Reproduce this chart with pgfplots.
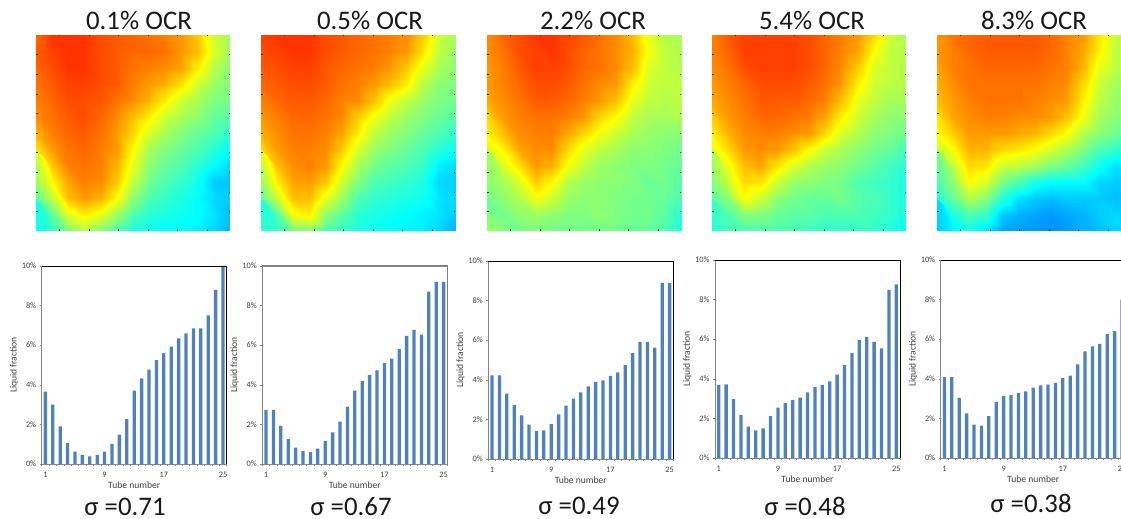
\documentclass[border=0pt]{standalone}
\usepackage{pgfplots}
\usepackage{pgfplotstable}
\usepackage{fontspec}
\setmainfont{Carlito}
\pgfplotsset{compat=1.18}
\pgfplotstableread{
tube a b c d e
1 3.65 2.73 4.22 3.69 4.09
2 3.0 2.73 4.22 3.72 4.09
3 1.9 1.93 3.3 2.97 3.04
4 1.07 1.25 2.73 2.18 2.26
5 0.63 0.83 2.2 1.59 1.69
6 0.46 0.66 1.73 1.39 1.64
7 0.38 0.6 1.42 1.49 2.11
8 0.45 0.78 1.44 2.11 2.83
9 0.62 1.16 1.76 2.55 3.14
10 1.02 1.6 2.26 2.77 3.17
11 1.48 2.14 2.7 2.92 3.29
12 2.27 2.9 3.05 3.05 3.37
13 3.7 3.7 3.37 3.32 3.56
14 4.33 4.2 3.67 3.59 3.67
15 4.77 4.5 3.9 3.69 3.7
16 5.25 4.73 3.97 3.87 3.79
17 5.6 5.1 4.2 4.21 4.03
18 5.93 5.32 4.38 4.7 4.16
19 6.35 5.8 4.74 5.3 4.73
20 6.6 6.47 5.35 5.97 5.38
21 6.85 6.77 5.92 6.1 5.64
22 6.85 6.53 5.92 5.86 5.77
23 7.5 8.7 5.62 5.54 6.26
24 8.8 9.2 8.9 8.49 6.41
25 10 9.2 8.9 8.77 8.0
}\bars
\pgfplotstableread[row sep=crcr,header=false]{
26\\28\\28\\28\\27\\26.5\\26\\25.5\\25\\24\\22\\18\\16.5\\
26.5\\27.5\\28\\28\\27\\26.5\\26\\26\\25.5\\24\\22.5\\18.5\\16.5\\
26\\27\\28\\28\\27\\26.5\\25.5\\25\\24.5\\23.5\\20.5\\17\\15.5\\
25.5\\26.5\\27.5\\27.5\\27\\26.5\\25\\24\\23\\21\\18\\16\\15\\
25\\26\\27\\27\\26.7\\25.5\\24.5\\23\\20.5\\18\\16.5\\15\\14.5\\
24.5\\25.5\\26.5\\27\\26\\24.5\\22.5\\20.5\\18\\16.5\\15.5\\14\\13.5\\
23\\25\\26\\26.5\\25.5\\24\\21.5\\18.5\\16.5\\15\\14\\13\\12\\
21\\24\\25.5\\26\\25\\24\\20\\16.5\\15\\14\\13\\11.5\\10\\
18.5\\22\\25\\25.5\\25\\23\\19\\15.5\\14\\13\\11.5\\10\\8.5\\
16\\20\\23.5\\25\\24.5\\22\\17.5\\14.5\\13\\12\\10.5\\8\\7.5\\
13.5\\17.5\\22.5\\24\\23\\20\\15.5\\13\\12\\11\\10\\8.5\\8\\
11\\13.5\\18.5\\20.5\\19\\16\\13\\11.5\\11\\10.5\\10\\9\\7.5\\
10.5\\12\\15\\17\\15\\13\\11\\10.5\\10\\10\\9.5\\8.5\\7\\
}\heatA
\pgfplotstableread[row sep=crcr,header=false]{
27.5\\28\\28\\28\\27\\26.5\\26\\25.5\\25\\24.5\\22\\18\\16.5\\
27\\27.5\\28\\28\\27\\26.5\\26\\25.5\\25\\24\\21\\17.5\\16\\
26.5\\27\\27.5\\27.5\\26.5\\26\\25.5\\25\\24\\22\\19\\16.5\\15.5\\
26\\26.5\\27\\27\\26.5\\25.5\\25\\24\\22.5\\20.5\\17\\15.5\\15\\
25\\26\\26.5\\26.5\\26\\25\\24.5\\22.5\\19.5\\17.5\\16\\15\\14.5\\
24\\25\\26\\26\\25.5\\24.5\\22\\19.5\\17.5\\16\\15\\14\\13.5\\
23\\24.5\\25.5\\25.5\\25\\23.5\\20.5\\17.5\\16\\15\\14\\13\\12\\
21.5\\24\\25\\25\\24.5\\22\\18.5\\16\\15\\14\\13\\11.5\\10.5\\
19\\22.5\\24.5\\25\\24\\20\\16.5\\14.5\\13.5\\13\\12\\9.5\\8.5\\
16\\20.5\\23.5\\24\\22\\18\\15\\13\\12.5\\12\\11\\8.5\\8\\
13.5\\18\\22.5\\22.5\\19\\16\\13\\12\\11.5\\11\\10.5\\9\\8.5\\
11\\13\\19.5\\20.5\\15.5\\13.5\\11.5\\11\\10.5\\10\\9.5\\9\\8\\
12\\12\\14.5\\15\\13\\12\\11\\10.5\\10\\9.5\\9.5\\8.5\\7\\
}\heatB
\pgfplotstableread[row sep=crcr,header=false]{
24.5\\26\\27\\28\\28\\27.5\\26.5\\25.5\\24.5\\22.5\\19\\17\\16.5\\
24.5\\25.5\\27\\27.5\\28\\27\\26\\25.5\\24.5\\23\\19.5\\17.5\\17\\
24\\25\\26.5\\27.5\\27.5\\27\\26\\25.5\\24.5\\22.5\\18.5\\17.5\\17\\
24\\25\\26\\27\\27\\26.5\\25.5\\24.5\\24\\20.5\\18\\17.5\\17.5\\
23.5\\24.5\\25.5\\26.5\\26.5\\26\\25\\24\\22.5\\19\\17.5\\17\\17.5\\
21.5\\24\\25\\25.5\\25.5\\25\\24\\21.5\\20\\17.5\\16.5\\16.5\\17\\
20.5\\22.5\\24.5\\25\\25\\23.5\\21.5\\19.5\\18\\16.5\\16\\15.5\\15.5\\
18.5\\20.5\\23.5\\24.5\\24.5\\21.5\\19\\17.5\\16.5\\15.5\\15.5\\15\\14.5\\
16.5\\18.5\\21\\24\\23\\19.5\\17.5\\16\\15.5\\15\\15\\14.5\\14\\
15.5\\16.5\\18.5\\22\\20\\17\\16\\15.5\\15.5\\15\\14\\14.5\\13.5\\
14.5\\15.5\\17\\19.5\\18\\16\\15.5\\15.5\\15\\14.5\\14.5\\14\\13\\
14\\14.5\\15.5\\16\\15.5\\15\\15\\15.5\\15\\14.5\\14.5\\13.5\\11.5\\
16\\15.5\\14.5\\15\\14.5\\14.5\\14.5\\14.5\\14.5\\14\\14\\13\\11\\
}\heatC
\pgfplotstableread[row sep=crcr,header=false]{
25\\26.5\\27.5\\27.5\\27.5\\27.5\\27\\26\\25\\24\\21.5\\18\\16.5\\
25\\26\\27.5\\27.5\\27.5\\27.5\\27\\26\\25\\23.5\\20\\17.5\\17\\
24.5\\25.5\\27\\27.5\\27.5\\27.5\\27\\26\\24.5\\22\\18.5\\17.5\\17\\
24\\25\\26\\27\\27\\27\\26.5\\25.5\\24\\20.5\\18\\17.5\\17\\
23.5\\24.5\\25.5\\26.5\\26.5\\26.5\\26\\25\\22.5\\19\\17.5\\16.5\\16.5\\
22\\24\\25\\26\\26\\25.5\\25\\23.5\\20.5\\18\\16.5\\15.5\\15.5\\
20.5\\23\\24.5\\25\\25\\24.5\\24\\21.5\\18.5\\17\\15.5\\15\\14.5\\
19\\21.5\\24\\24.5\\24\\22.5\\20\\18\\16.5\\15.5\\14.5\\14\\12.5\\
17\\19.5\\22.5\\23.5\\21\\18.5\\17\\16\\15.5\\14.5\\13.5\\12.5\\11.5\\
15\\18\\21.5\\21\\18\\16\\15.5\\15\\14.5\\13\\12.5\\12\\11\\
13.5\\15.5\\20\\18\\15.5\\14.5\\14\\14\\14.5\\13.5\\13\\12\\11\\
12\\13\\15\\15\\14\\13.5\\13.5\\13\\13\\13\\12.5\\12\\11\\
11.5\\13\\13\\13\\13\\13\\12.5\\12\\12\\12\\12\\11.5\\10\\
}\heatD
\pgfplotstableread[row sep=crcr,header=false]{
24\\25.5\\26\\26.5\\26.5\\26.5\\26.5\\26\\25\\24\\21\\18\\16.5\\
24\\25\\26\\26.5\\26.5\\26.5\\26.5\\26\\25\\23.5\\20.5\\17.5\\16\\
23.5\\25\\25.5\\26\\26\\26\\26\\25.5\\25\\23\\19\\17.5\\16\\
23\\24.5\\25.5\\25.5\\25.5\\25.5\\25.5\\25\\24.5\\21.5\\18\\16.5\\15.5\\
22.5\\24\\25\\25.5\\25.5\\25.5\\25\\24.5\\24\\20.5\\17.5\\16\\15\\
21\\23.5\\24.5\\25\\25\\24.5\\24.5\\24\\22.5\\19.5\\16.5\\15.5\\14.5\\
20\\22\\24\\24\\24\\23.5\\23\\21.5\\20\\17\\15.5\\14.5\\13.5\\
17.5\\20\\23\\23\\21.5\\21\\20\\18.5\\17\\15\\13\\12\\10.5\\
15\\17.5\\21.5\\21\\18\\17.5\\16.5\\15\\14\\12.5\\10.5\\9\\9\\
13\\15.5\\20\\18.5\\15\\13\\11\\10\\10\\10\\8.5\\8\\8\\
11\\14\\17\\15.5\\11.5\\9\\8\\7.5\\8\\8\\8\\7.5\\8\\
8.5\\11\\13\\12\\8\\7\\6.5\\6\\6.5\\7\\8\\8.5\\8.5\\
8\\9.5\\11\\9\\6.5\\6\\6\\5.5\\6\\7\\7.5\\8.5\\8.5\\
}\heatE
\newcommand\gridcols[1]{%
  \pgfplotstablecreatecol[expr={mod(\pgfplotstablerow,13)}]{gx}{#1}%
  \pgfplotstablecreatecol[expr={12-floor(\pgfplotstablerow/13)}]{gy}{#1}}
\gridcols\heatA \gridcols\heatB \gridcols\heatC \gridcols\heatD \gridcols\heatE
\definecolor{barblue}{RGB}{79,129,189}
\definecolor{axgray}{RGB}{134,134,134}
\definecolor{txt}{RGB}{64,64,64}
\pgfplotsset{
  heat/.style={
    scale only axis, width=194pt, height=196pt,
    anchor=south west, view={0}{90},
    xmin=0, xmax=12, ymin=0, ymax=12,
    colormap={jetx}{rgb255(0)=(0,0,255) rgb255(10)=(0,255,255) rgb255(20)=(255,255,0) rgb255(30)=(255,0,0)},
    point meta min=0, point meta max=30,
    xtick={1.44,3.27,5.09,6.91,8.73,10.56},
    ytick={1.2,2.4,3.6,4.8,6,7.2,8.4,9.6,10.8},
    xticklabels={}, yticklabels={}, ztick=\empty,
    tick align=inside, major tick length=1.5pt,
    tick style={black!65!green,line width=.4pt},
    axis line style={draw=none}, axis on top,
  },
  bar/.style={
    scale only axis, width=185pt, height=198pt,
    anchor=south west, ybar, bar width=3.3pt,
    xmin=0.5, xmax=25.5, ymin=0, ymax=10,
    xtick={1,9,17,25}, ytick={0,2,4,6,8,10},
    minor xtick={0.5,1.5,...,25.5},
    yticklabel={\pgfmathprintnumber{\tick}\%},
    /pgf/number format/assume math mode=true,
    tick align=outside, xtick pos=bottom, ytick pos=left,
    major tick length=2pt, minor tick length=2pt,
    xtick style={draw=none}, minor x tick style={draw=axgray,line width=.5pt},
    y tick style={draw=axgray,line width=.5pt},
    tick label style={font=\fontsize{8.3}{9}\selectfont,text=txt},
    xticklabel style={yshift=-3pt}, yticklabel style={xshift=0pt},
    xlabel={Tube number}, ylabel={Liquid fraction},
    label style={font=\fontsize{9.6}{11}\selectfont,text=txt},
    x label style={at={(axis description cs:.5,-.106)},anchor=center},
    y label style={at={(axis description cs:-.15,.5)},anchor=center,rotate=0},
    axis line style={axgray,line width=.8pt},
  },
  blacktop/.style={extra description/.code={\draw[black,line width=.8pt] (0,1)--(1,1)--(1,0);}},
  graytop/.style={extra description/.code={\draw[black!50,line width=1pt] (0,1)--(1,1)--(1,0);}},
}
\newcommand\heatplot[1]{\addplot3[surf,shader=interp,mesh/cols=13,mesh/ordering=x varies] table[x=gx,y=gy,z index=0]{#1};}
\newcommand\ttl[3]{\node[font=\fontsize{26.8}{30}\selectfont,text=black!90] at (#1pt,#2pt) {#3};}
\newcommand\sig[3]{\node[font=\fontsize{26.8}{30}\selectfont,text=black!90] at (#1pt,#2pt) {σ =#3};}
\begin{document}
\begin{tikzpicture}[x=1pt,y=1pt]
\path[use as bounding box] (0,0) rectangle (1121,519);
\begin{axis}[heat,at={(36pt,288pt)}]\heatplot{\heatA}\end{axis}
\begin{axis}[heat,at={(261pt,288pt)}]\heatplot{\heatB}\end{axis}
\begin{axis}[heat,at={(487pt,288pt)}]\heatplot{\heatC}\end{axis}
\begin{axis}[heat,at={(712pt,288pt)}]\heatplot{\heatD}\end{axis}
\begin{axis}[heat,at={(937pt,288pt)}]\heatplot{\heatE}\end{axis}
\begin{axis}[bar,blacktop,at={(41.7pt,55pt)}]\addplot[fill=barblue,draw=none] table[x=tube,y=a]{\bars};\end{axis}
\begin{axis}[bar,graytop,at={(262.3pt,55pt)}]\addplot[fill=barblue,draw=none] table[x=tube,y=b]{\bars};\end{axis}
\begin{axis}[bar,blacktop,at={(488.3pt,60pt)}]\addplot[fill=barblue,draw=none] table[x=tube,y=c]{\bars};\end{axis}
\begin{axis}[bar,blacktop,at={(715pt,61pt)}]\addplot[fill=barblue,draw=none] table[x=tube,y=d]{\bars};\end{axis}
\begin{axis}[bar,blacktop,at={(940.7pt,61pt)}]\addplot[fill=barblue,draw=none] table[x=tube,y=e]{\bars};\end{axis}
\ttl{139}{499}{0.1\% OCR}
\ttl{370}{499}{0.5\% OCR}
\ttl{593}{499}{2.2\% OCR}
\ttl{812}{499}{5.4\% OCR}
\ttl{1034}{499}{8.3\% OCR}
\sig{125}{12}{0.71}
\sig{351}{12}{0.67}
\sig{579}{13}{0.49}
\sig{805}{13}{0.48}
\sig{1031}{16}{0.38}
\end{tikzpicture}
\end{document}
